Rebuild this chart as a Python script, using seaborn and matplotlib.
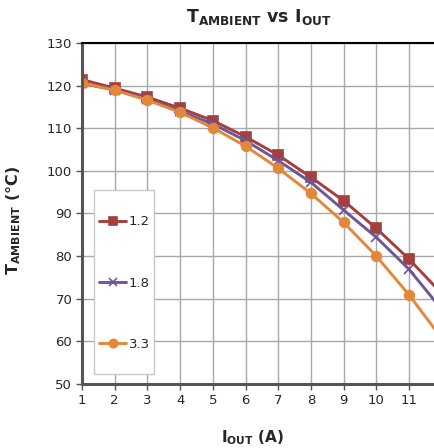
import pandas as pd
import seaborn as sns
import matplotlib.pyplot as plt
from matplotlib.patches import Rectangle

sns.set_theme(style="white")
plt.rcParams['font.family'] = ['DejaVu Sans']

## Data
i_out = [1, 2, 3, 4, 5, 6, 7, 8, 9, 10, 11, 12]
t_12 = [121.4, 119.4, 117.3, 114.7, 111.8, 108.0, 103.7, 98.5, 93.0, 86.5, 79.3, 71.2]
t_18 = [120.5, 119.0, 116.8, 114.0, 111.0, 107.1, 102.4, 97.3, 90.8, 84.4, 76.9, 67.5]
t_33 = [120.6, 118.9, 116.6, 113.7, 110.1, 105.8, 100.6, 94.7, 87.9, 80.0, 70.9, 60.7]
labels = ["1.2", "1.8", "3.3"]

df = pd.DataFrame({
    "iout": i_out * 3,
    "temp": t_12 + t_18 + t_33,
    "series": [labels[0]] * 12 + [labels[1]] * 12 + [labels[2]] * 12,
})

colors = {"1.2": "#A53F3C", "1.8": "#6E5696", "3.3": "#E3873A"}
markers = {"1.2": "s", "1.8": "x", "3.3": "o"}

fig = plt.figure(figsize=(4.35, 4.48), dpi=100)
ax = fig.add_axes([0.1885, 0.1429, 0.827, 0.7612])

# seaborn won't mix filled and line markers in one call, so one call per series
for k in labels:
    sns.lineplot(data=df[df.series == k], x="iout", y="temp", color=colors[k],
                 marker=markers[k], linewidth=2.1, markersize=7,
                 markeredgewidth=1.2, markeredgecolor=colors[k], ax=ax, label=k)

ax.set_xlim(1, 12)
ax.set_ylim(50, 130)
ax.set_xticks(i_out)
ax.set_yticks(range(50, 131, 10))
ax.grid(True, color="#A8A8A8", linewidth=1.0)
ax.set_axisbelow(True)
ax.tick_params(axis="both", labelsize=9.5, length=4, width=1, color="#555555",
               direction="out", bottom=True, left=True, pad=3)
for s in ["left", "bottom"]:
    ax.spines[s].set_color("#555555")
    ax.spines[s].set_linewidth(2.2)
ax.spines["top"].set_color("black")
ax.spines["top"].set_linewidth(1.5)
ax.spines["right"].set_visible(False)

ax.set_xlabel("")
ax.set_ylabel("")
fig.text(0.58, 0.003, r"$\mathbf{I_{OUT}}$ (A)", ha="center", va="bottom",
         fontsize=11, fontweight="bold")
fig.text(0.032, 0.507, r"$\mathbf{T_{AMBIENT}}$ (°C)", ha="center", va="center",
         rotation=90, fontsize=11.5, fontweight="bold")
fig.text(0.595, 0.94, r"$\mathbf{T_{AMBIENT}}$ vs $\mathbf{I_{OUT}}$",
         ha="center", va="bottom", fontsize=12.5, fontweight="bold")

# legend: plain box drawn separately so it can be taller than the entries need
fig.patches.append(Rectangle((94 / 435, 1 - 374 / 448), 60 / 435, 184 / 448,
                             transform=fig.transFigure, facecolor="white",
                             edgecolor="#C8C8C8", linewidth=1.0, zorder=3))
handles, _ = ax.get_legend_handles_labels()
ax.get_legend().remove()
leg = fig.legend(handles, labels, loc="center left",
                 bbox_to_anchor=(99 / 435, 1 - 283 / 448),
                 fontsize=9.5, handlelength=2.05, handletextpad=0.2,
                 labelspacing=3.65, borderpad=0, borderaxespad=0,
                 frameon=False, markerscale=0.85)
leg.set_zorder(5)

plt.savefig("out.png", dpi=100)
